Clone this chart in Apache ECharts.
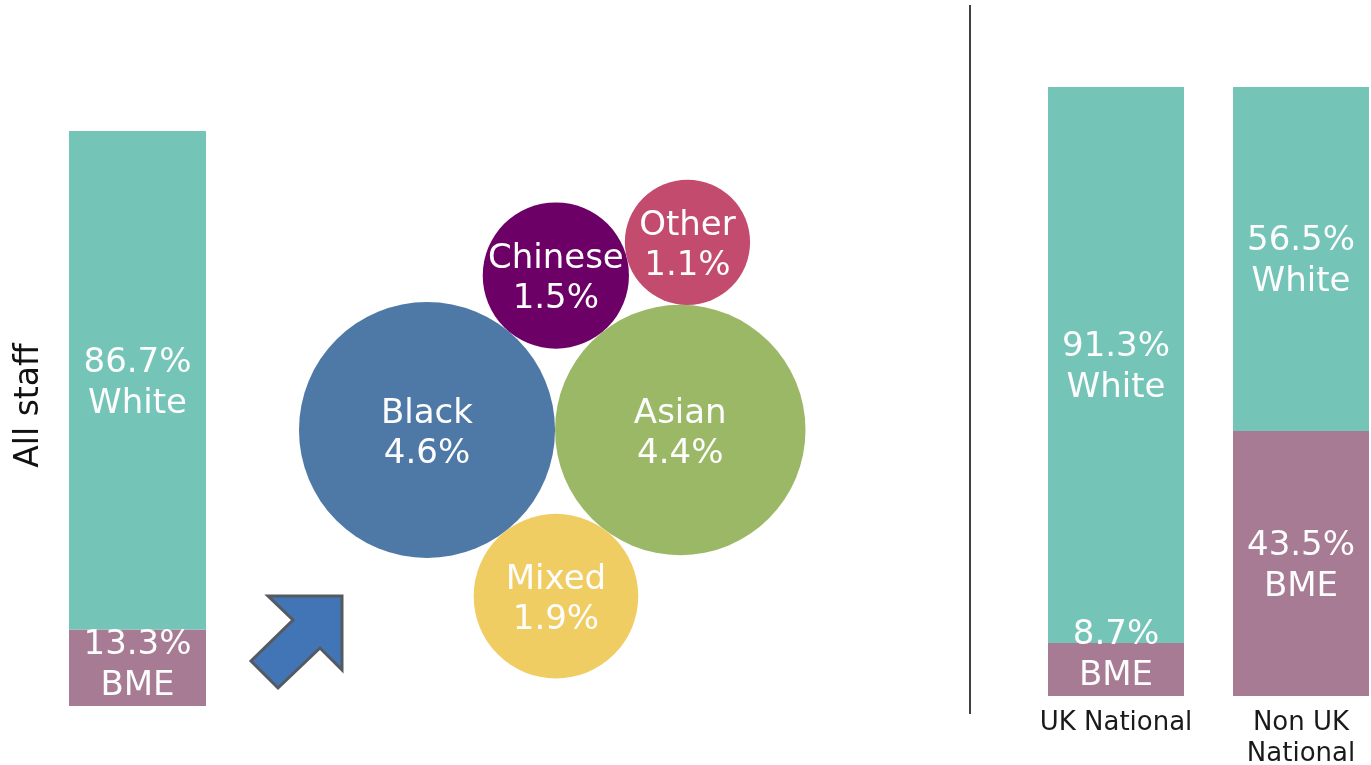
<!DOCTYPE html>
<html>
<head>
<meta charset="utf-8">
<script src="https://cdn.jsdelivr.net/npm/echarts@6/dist/echarts.min.js"></script>
<style>
  html, body { margin: 0; padding: 0; background: #ffffff; }
  #chart { width: 1371px; height: 765px; }
</style>
</head>
<body>
<div id="chart"></div>
<script>
// Staff ethnicity: overall split, BME breakdown bubbles, split by nationality
const staffGroups = ['All staff'];
const allStaffWhite = [86.7];
const allStaffBme = [13.3];

const nationalityGroups = ['UK National', 'Non UK\nNational'];
const nationalityWhite = [91.3, 56.5];
const nationalityBme = [8.7, 43.5];

const ethnicGroups = ['Black', 'Asian', 'Chinese', 'Other', 'Mixed'];
const ethnicShares = [4.6, 4.4, 1.5, 1.1, 1.9];

const FONT = '"DejaVu Sans", Verdana, sans-serif';
const WHITE_COLOR = '#74c5b8';
const BME_COLOR = '#a77b93';
const BUBBLE_COLORS = {
  Black: '#4e79a7', Asian: '#9bb867', Chinese: '#6c0066', Other: '#c24b6e', Mixed: '#f0cd62'
};

// ---- bubble packing: radius proportional to sqrt(share), each circle tangent to two others
const PX_PER_UNIT = 59.7;
const circles = {};
ethnicGroups.forEach((n, i) => { circles[n] = { name: n, v: ethnicShares[i], r: Math.sqrt(ethnicShares[i]) }; });

function tangentTo(a, b, c, side) {
  const dx = b.x - a.x, dy = b.y - a.y;
  const d = Math.hypot(dx, dy);
  const ux = dx / d, uy = dy / d;
  const da = a.r + c.r, db = b.r + c.r;
  const t = (d * d + da * da - db * db) / (2 * d);
  const h = Math.sqrt(Math.max(da * da - t * t, 0));
  c.x = a.x + t * ux + side * h * (-uy);
  c.y = a.y + t * uy + side * h * ux;
}
circles.Black.x = 0; circles.Black.y = 0;
circles.Asian.x = circles.Black.r + circles.Asian.r; circles.Asian.y = 0;
tangentTo(circles.Black, circles.Asian, circles.Chinese, 1);
tangentTo(circles.Black, circles.Asian, circles.Mixed, -1);
tangentTo(circles.Chinese, circles.Asian, circles.Other, 1);

const bubbleData = ethnicGroups.map(n => {
  const c = circles[n];
  return {
    name: n,
    value: [c.x, c.y, c.v],
    symbolSize: 2 * c.r * PX_PER_UNIT,
    itemStyle: { color: BUBBLE_COLORS[n], opacity: 1 }
  };
});

// ---- stacked bar helpers
function bmeItems(v) {
  return [{
    value: v,
    label: v < 20 ? { position: 'insideBottom', distance: 2 } : { position: 'inside' }
  }];
}
const barLabel = {
  show: true,
  color: '#fdfdfd',
  fontFamily: FONT,
  fontSize: 34,
  lineHeight: 41,
  offset: [0, 3]
};

const hiddenValueAxis = (grid) => ({
  type: 'value', gridIndex: grid, min: 0, max: 100,
  axisLine: { show: false }, axisTick: { show: false },
  axisLabel: { show: false }, splitLine: { show: false }
});
const categoryAxis = (grid, name, showLabel) => ({
  type: 'category', gridIndex: grid, data: [name],
  axisLine: { show: false }, axisTick: { show: false },
  axisLabel: showLabel
    ? { color: '#1a1a1a', fontFamily: FONT, fontSize: 26, lineHeight: 31, margin: 12 }
    : { show: false }
});

function stackedPair(axisIdx, stackId, bme, white, width) {
  return [
    {
      type: 'bar', xAxisIndex: axisIdx, yAxisIndex: axisIdx, stack: stackId, barWidth: width,
      itemStyle: { color: BME_COLOR },
      label: Object.assign({}, barLabel, { formatter: p => p.value + '%\nBME' }),
      data: bmeItems(bme)
    },
    {
      type: 'bar', xAxisIndex: axisIdx, yAxisIndex: axisIdx, stack: stackId, barWidth: width,
      itemStyle: { color: WHITE_COLOR },
      label: Object.assign({}, barLabel, { position: 'inside', formatter: p => p.value + '%\nWhite' }),
      data: [white]
    }
  ];
}

const chart = echarts.init(document.getElementById('chart'), null, { renderer: 'canvas' });

const bubbleCx = 427, bubbleCy = 430, span = 5;

chart.setOption({
  backgroundColor: '#ffffff',
  animation: false,
  grid: [
    { left: 69, top: 131, width: 137, height: 575, outerBoundsMode: 'none' },
    { left: 1048, top: 87, width: 136, height: 609, outerBoundsMode: 'none' },
    { left: 1233, top: 87, width: 136, height: 609, outerBoundsMode: 'none' },
    { left: bubbleCx - span * PX_PER_UNIT, top: bubbleCy - span * PX_PER_UNIT,
      width: 2 * span * PX_PER_UNIT, height: 2 * span * PX_PER_UNIT, outerBoundsMode: 'none' }
  ],
  xAxis: [
    categoryAxis(0, staffGroups[0], false),
    categoryAxis(1, nationalityGroups[0], true),
    categoryAxis(2, nationalityGroups[1], true),
    { type: 'value', gridIndex: 3, min: -span, max: span, show: false }
  ],
  yAxis: [
    Object.assign(hiddenValueAxis(0), {
      name: staffGroups[0], nameLocation: 'middle', nameRotate: 90, nameGap: 23,
      nameTextStyle: { color: '#111', fontFamily: FONT, fontSize: 33, padding: [0, 0, 0, 26] }
    }),
    hiddenValueAxis(1),
    hiddenValueAxis(2),
    { type: 'value', gridIndex: 3, min: -span, max: span, show: false }
  ],
  series: [
    ...stackedPair(0, 'all', allStaffBme[0], allStaffWhite[0], 137),
    ...stackedPair(1, 'uk', nationalityBme[0], nationalityWhite[0], 136),
    ...stackedPair(2, 'nonuk', nationalityBme[1], nationalityWhite[1], 136),
    {
      type: 'scatter', xAxisIndex: 3, yAxisIndex: 3, symbol: 'circle',
      label: {
        show: true, position: 'inside', color: '#fdfdfd', fontFamily: FONT,
        fontSize: 34, lineHeight: 40, offset: [0, 4],
        formatter: p => p.name + '\n' + p.value[2] + '%'
      },
      data: bubbleData
    }
  ],
  graphic: [
    {
      type: 'line', silent: true,
      shape: { x1: 970, y1: 5, x2: 970, y2: 714 },
      style: { stroke: '#000', lineWidth: 1.5 }
    },
    {
      type: 'polygon', silent: true,
      shape: { points: [[268, 596], [342, 596], [342, 670], [320, 648], [278, 688], [251, 661], [293, 620]] },
      style: { fill: '#4175b5', stroke: '#555a60', lineWidth: 3, lineJoin: 'miter' }
    }
  ]
});
</script>
</body>
</html>
